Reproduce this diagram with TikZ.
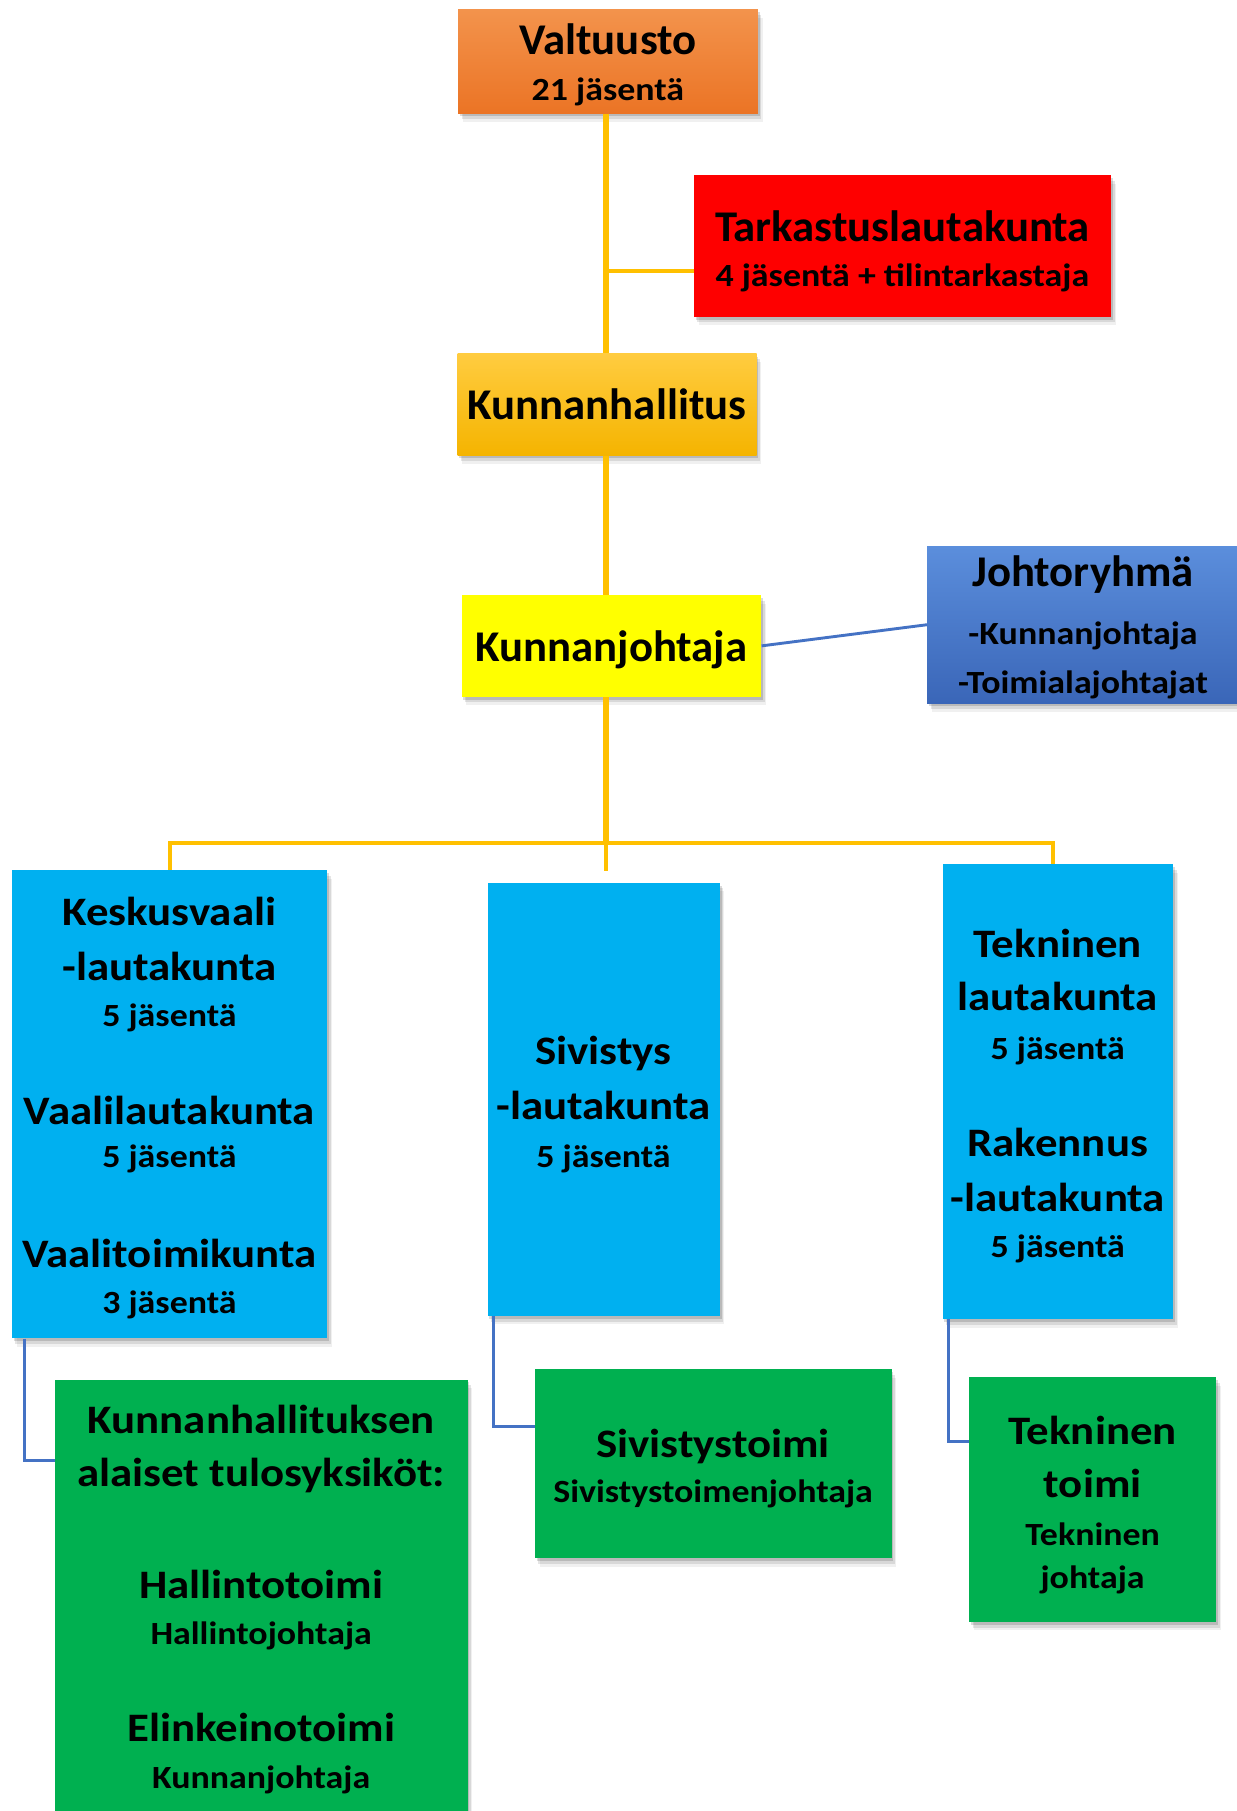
\documentclass[tikz,border=0pt]{standalone}
\usepackage{fontspec}
\setmainfont{Carlito}
\newfontfamily\wfont{Carlito}[FakeStretch=1.11]
\newfontfamily\nfont{Carlito}[FakeStretch=1.02]
\usetikzlibrary{shadows}
\definecolor{orangeT}{HTML}{F3934C}
\definecolor{orangeB}{HTML}{EB7425}
\definecolor{redbox}{HTML}{FE0000}
\definecolor{goldT}{HTML}{FFCC40}
\definecolor{goldB}{HTML}{F5B400}
\definecolor{yellowbox}{HTML}{FFFF00}
\definecolor{blueT}{HTML}{5B8EDC}
\definecolor{blueB}{HTML}{3A66B8}
\definecolor{skybox}{HTML}{00B0F0}
\definecolor{greenbox}{HTML}{00B050}
\definecolor{goldline}{HTML}{FFC000}
\definecolor{blueline}{HTML}{4472C4}
\tikzset{
  box/.style={draw=none, inner sep=0pt, anchor=north west,
    drop shadow={shadow xshift=1.5pt, shadow yshift=-2.5pt, opacity=0.14, fill=black},
    drop shadow={shadow xshift=3pt, shadow yshift=-5pt, opacity=0.10, fill=black},
    drop shadow={shadow xshift=4pt, shadow yshift=-7.5pt, opacity=0.06, fill=black}},
  tbig/.style={font=\wfont\bfseries\fontsize{35}{42}\selectfont, anchor=base, inner sep=0pt, text=black},
  tsmall/.style={font=\wfont\bfseries\fontsize{28}{34}\selectfont, anchor=base, inner sep=0pt, text=black},
  ttop/.style={font=\nfont\bfseries\fontsize{38}{46}\selectfont, anchor=base, inner sep=0pt, text=black},
  spine/.style={draw=goldline, line width=5pt},
  branch/.style={draw=goldline, line width=3.5pt},
  bl/.style={draw=blueline, line width=2.5pt}
}
\begin{document}
\begin{tikzpicture}[x=1pt,y=-1pt]
\useasboundingbox (0,0) rectangle (1071,1568);
% boxes
\node[box, top color=orangeT, bottom color=orangeB, minimum width=259.5pt, minimum height=90pt] (valt) at (396.5,8) {};
\node[box, fill=redbox, minimum width=361.4pt, minimum height=122.5pt] (tark) at (600.6,151.5) {};
\node[box, top color=goldT, bottom color=goldB, minimum width=259pt, minimum height=88pt] (kh) at (396,306) {};
\node[box, fill=yellowbox, minimum width=259.5pt, minimum height=88pt] (kj) at (399.5,515) {};
\node[box, top color=blueT, bottom color=blueB, minimum width=270.2pt, minimum height=136pt] (jo) at (802.6,472.7) {};
\node[box, fill=skybox, minimum width=273.2pt, minimum height=405.4pt] (kes) at (10.1,753.2) {};
\node[box, fill=skybox, minimum width=201pt, minimum height=375pt] (siv) at (422,764) {};
\node[box, fill=skybox, minimum width=199.6pt, minimum height=394pt] (tek) at (816,748) {};
\node[box, fill=greenbox, minimum width=357pt, minimum height=400pt] (g1) at (47.6,1194.2) {};
\node[box, fill=greenbox, minimum width=308.8pt, minimum height=163.6pt] (g2) at (463,1185) {};
\node[box, fill=greenbox, minimum width=214.2pt, minimum height=212pt] (g3) at (838.8,1192) {};
% coordinates
\coordinate (tb) at (524.7,234.6);
\coordinate (bar) at (524.5,730);
% gold connectors
\draw[spine] (valt.south -| bar) -- (kh.north -| bar);
\draw[branch] (tb) -- (tb -| tark.west);
\draw[spine] (kh.south -| bar) -- (kj.north -| bar);
\draw[spine] (kj.south -| bar) -- (bar);
\draw[branch] (kes.north) |- (bar) -| ([xshift=-4.5pt]tek.north);
\draw[branch, shorten >=10pt] (bar) -- (siv.north -| bar);
% blue connectors
\draw[bl] (kj.east) -- (jo.west);
\draw[bl] ([xshift=11pt]kes.south west) |- ([yshift=-70pt]g1.north west);
\draw[bl] ([xshift=5pt]siv.south west) |- ([yshift=-50pt]g2.north west);
\draw[bl] ([xshift=5pt]tek.south west) |- ([yshift=-56pt]g3.north west);
% texts
\node[ttop] (valt1) at (526.3,47.6) {Valtuusto};
\node[tsmall] (valt2) at (526.3,86.6) {21 jäsentä};
\node[ttop] (tark1) at (781.3,209.2) {Tarkastuslautakunta};
\node[tsmall] (tark2) at (781.3,248.2) {4 jäsentä + tilintarkastaja};
\node[ttop] (kh1) at (525.5,363.6) {Kunnanhallitus};
\node[ttop] (kj1) at (529.3,572.9) {Kunnanjohtaja};
\node[ttop] (jo1) at (937.7,508) {Johtoryhmä};
\node[tsmall] (jo2) at (937.7,558.4) {-Kunnanjohtaja};
\node[tsmall] (jo3) at (937.7,600.3) {-Toimialajohtajat};
\node[tbig] (kes1) at (146.7,801) {Keskusvaali};
\node[tbig] (kes2) at (146.7,848.5) {-lautakunta};
\node[tsmall] (kes3) at (146.7,889) {5 jäsentä};
\node[tbig] (kes4) at (146.7,974) {Vaalilautakunta};
\node[tsmall] (kes5) at (146.7,1011) {5 jäsentä};
\node[tbig] (kes6) at (146.7,1097) {Vaalitoimikunta};
\node[tsmall] (kes7) at (146.7,1137) {3 jäsentä};
\node[tbig] (siv1) at (522.5,922) {Sivistys};
\node[tbig] (siv2) at (522.5,969.5) {-lautakunta};
\node[tsmall] (siv3) at (522.5,1010.5) {5 jäsentä};
\node[tbig] (tek1) at (915.8,829.4) {Tekninen};
\node[tbig] (tek2) at (915.8,875) {lautakunta};
\node[tsmall] (tek3) at (915.8,917) {5 jäsentä};
\node[tbig] (tek4) at (915.8,1001) {Rakennus};
\node[tbig] (tek5) at (915.8,1048.7) {-lautakunta};
\node[tsmall] (tek6) at (915.8,1089) {5 jäsentä};
\node[tbig] (g1a) at (226.1,1241) {Kunnanhallituksen};
\node[tbig] (g1b) at (226.1,1287) {alaiset tulosyksiköt:};
\node[tbig] (g1c) at (226.1,1383.8) {Hallintotoimi};
\node[tsmall] (g1d) at (226.1,1424.2) {Hallintojohtaja};
\node[tbig] (g1e) at (226.1,1508) {Elinkeinotoimi};
\node[tsmall] (g1f) at (226.1,1548.3) {Kunnanjohtaja};
\node[tbig] (g2a) at (617.4,1262) {Sivistystoimi};
\node[tsmall] (g2b) at (617.4,1301) {Sivistystoimenjohtaja};
\node[tbig] (g3a) at (946,1250.8) {Tekninen};
\node[tbig] (g3b) at (946,1296.6) {toimi};
\node[tsmall] (g3c) at (946,1338.5) {Tekninen};
\node[tsmall] (g3d) at (946,1375) {johtaja};
\end{tikzpicture}
\end{document}
